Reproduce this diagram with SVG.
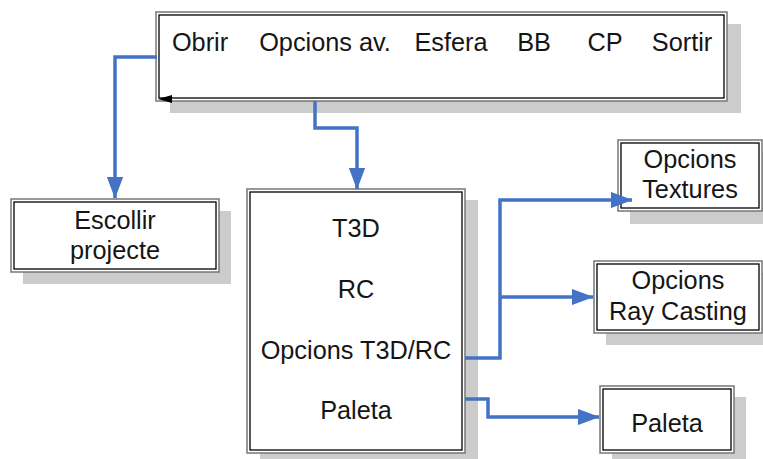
<svg xmlns="http://www.w3.org/2000/svg" width="763" height="459" viewBox="0 0 763 459">
<defs>
<style>
.sh{fill:#cccccc}
.bo{fill:#fff;stroke:#777;stroke-width:1.5}
.bi{fill:none;stroke:#000;stroke-width:1.3}
.t{font-family:"Liberation Sans",Arial,sans-serif;font-size:25.3px;fill:#151515;text-anchor:middle}
.c{fill:none;stroke:#4472C4;stroke-width:3.5;stroke-linejoin:miter}
</style>
<marker id="ah" markerWidth="6.2" markerHeight="4.6" refX="6" refY="2.3" orient="auto" markerUnits="strokeWidth">
<path d="M0,0 L6.2,2.3 L0,4.6 Z" fill="#4472C4"/>
</marker>
</defs>
<rect width="763" height="459" fill="#fff"/>

<g id="menu">
<rect class="sh" x="170" y="24" width="571" height="89"/>
<rect class="bo" x="156" y="12" width="571" height="89"/>
<rect class="bi" x="159" y="15" width="565" height="83"/>
<path d="M158,99 L172,95 L172,103 Z" fill="#000"/>
<text class="t" x="200" y="51">Obrir</text>
<text class="t" x="325" y="51">Opcions av.</text>
<text class="t" x="451" y="51">Esfera</text>
<text class="t" x="534" y="51">BB</text>
<text class="t" x="605" y="51">CP</text>
<text class="t" x="682" y="51">Sortir</text>
</g>

<g id="escollir">
<rect class="sh" x="23" y="211" width="208" height="73"/>
<rect class="bo" x="11" y="199" width="208" height="73"/>
<rect class="bi" x="14" y="202" width="202" height="67"/>
<text class="t" x="115" y="229">Escollir</text>
<text class="t" x="115" y="259">projecte</text>
</g>

<g id="main">
<rect class="sh" x="260" y="200" width="218" height="262"/>
<rect class="bo" x="247" y="189" width="218" height="264"/>
<rect class="bi" x="250" y="192" width="212" height="258"/>
<text class="t" x="356" y="237">T3D</text>
<text class="t" x="356" y="298">RC</text>
<text class="t" x="356" y="359">Opcions T3D/RC</text>
<text class="t" x="356" y="419">Paleta</text>
</g>

<g id="textures">
<rect class="sh" x="630" y="152" width="133" height="72"/>
<rect class="bo" x="618" y="140" width="144" height="71"/>
<rect class="bi" x="621" y="143" width="138" height="65"/>
<text class="t" x="690" y="168">Opcions</text>
<text class="t" x="690" y="198">Textures</text>
</g>

<g id="raycasting">
<rect class="sh" x="606" y="273" width="157" height="72"/>
<rect class="bo" x="594" y="261" width="168" height="72"/>
<rect class="bi" x="597" y="264" width="162" height="66"/>
<text class="t" x="678" y="289">Opcions</text>
<text class="t" x="678" y="320">Ray Casting</text>
</g>

<g id="paleta">
<rect class="sh" x="612" y="397" width="134" height="62"/>
<rect class="bo" x="600" y="386" width="134" height="67"/>
<rect class="bi" x="603" y="389" width="128" height="61"/>
<text class="t" x="667" y="432">Paleta</text>
</g>

<g id="connectors">
<path class="c" d="M157,57 H115 V198" marker-end="url(#ah)"/>
<path class="c" d="M315,101 V128 H357 V189" marker-end="url(#ah)"/>
<path class="c" d="M465,358 H500 V200 H632" marker-end="url(#ah)"/>
<path class="c" d="M500,297 H593" marker-end="url(#ah)"/>
<path class="c" d="M465,399 H488 V417 H599" marker-end="url(#ah)"/>
</g>
</svg>
